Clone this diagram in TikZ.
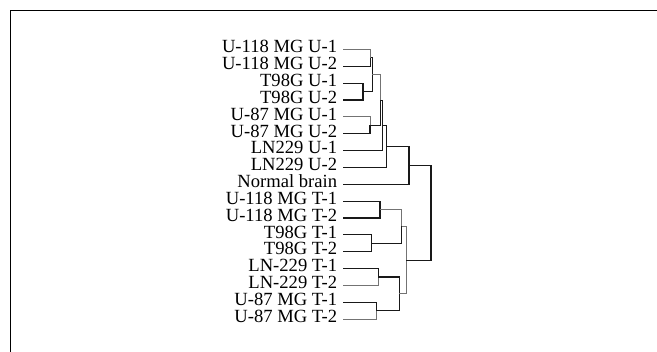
\documentclass[tikz,border=0pt]{standalone}
\usepackage{fontspec}
\setmainfont{Liberation Serif}
\begin{document}
\begin{tikzpicture}[x=1pt,y=-1pt,
  leaf/.style={anchor=east,inner xsep=5.7pt,inner ysep=0pt,font=\fontsize{18.6}{18.6}\selectfont,
               text height=0.66em,text depth=0pt},
  branch/.style={draw=black!90,line width=1.1pt},
  faint/.style={draw=black!55,line width=0.8pt}]
\useasboundingbox (0,0) rectangle (657,352);
% frame
\draw[line width=1.4pt] (10.3,352) -- (10.3,10.7) -- (657,10.7);

% leaf labels
\foreach \i/\t in {1/U-118 MG U-1,2/U-118 MG U-2,3/T98G U-1,4/T98G U-2,
                   5/U-87 MG U-1,6/U-87 MG U-2,7/LN229 U-1,8/LN229 U-2,
                   9/Normal brain,10/U-118 MG T-1,11/U-118 MG T-2,12/T98G T-1,
                   13/T98G T-2,14/LN-229 T-1,15/LN-229 T-2,16/U-87 MG T-1,17/U-87 MG T-2}
  \node[leaf] (l\i) at (343,{49.5+(\i-1)*16.85}) {\t};

% merge points
\coordinate (m12)   at (370.7,57.9);
\coordinate (m34)   at (363.0,91.6);
\coordinate (mA)    at (372.3,74.8);
\coordinate (m56)   at (370.0,125.3);
\coordinate (mAB)   at (380.7,100.1);
\coordinate (m7)    at (382.5,125.35);
\coordinate (m8)    at (386.7,146.4);
\coordinate (m9)    at (409.0,165.35);
\coordinate (m1011) at (380.0,209.6);
\coordinate (m1213) at (371.7,243.3);
\coordinate (mT1)   at (401.5,226.5);
\coordinate (m1415) at (378.3,277.0);
\coordinate (m1617) at (376.7,310.8);
\coordinate (mT2)   at (399.3,293.9);
\coordinate (mT)    at (406.0,260.2);
\coordinate (root)  at (431.0,212.8);

% untreated branch
\draw[faint]  (l1.east) -| (m12);
\draw[branch] (l2.east) -| (m12);
\draw[branch] (l3.east) -| (m34);
\draw[branch] (l4.east) -| (m34);
\draw[branch] (m12) -| (mA);
\draw[branch] (m34) -| (mA);
\draw[faint]  (l5.east) -| (m56);
\draw[branch] (l6.east) -| (m56);
\draw[faint]  (mA) -| (mAB);
\draw[branch] (m56) -| (mAB);
\draw[branch] (mAB) -| (m7);
\draw[branch] (l7.east) -| (m7);
\draw[branch] (m7) -| (m8);
\draw[branch] (l8.east) -| (m8);
\draw[branch] (m8) -| (m9);
\draw[branch] (l9.east) -| (m9);

% treated branch
\draw[branch] (l10.east) -| (m1011);
\draw[branch] (l11.east) -| (m1011);
\draw[branch] (l12.east) -| (m1213);
\draw[branch] (l13.east) -| (m1213);
\draw[faint]  (m1011) -| (mT1);
\draw[branch] (m1213) -| (mT1);
\draw[branch] (l14.east) -| (m1415);
\draw[faint]  (l15.east) -| (m1415);
\draw[branch] (l16.east) -| (m1617);
\draw[faint]  (l17.east) -| (m1617);
\draw[branch] (m1415) -| (mT2);
\draw[branch] (m1617) -| (mT2);
\draw[faint]  (mT1) -| (mT);
\draw[faint]  (mT2) -| (mT);

% root
\draw[branch] (m9) -| (root);
\draw[branch] (mT) -| (root);
\end{tikzpicture}
\end{document}
